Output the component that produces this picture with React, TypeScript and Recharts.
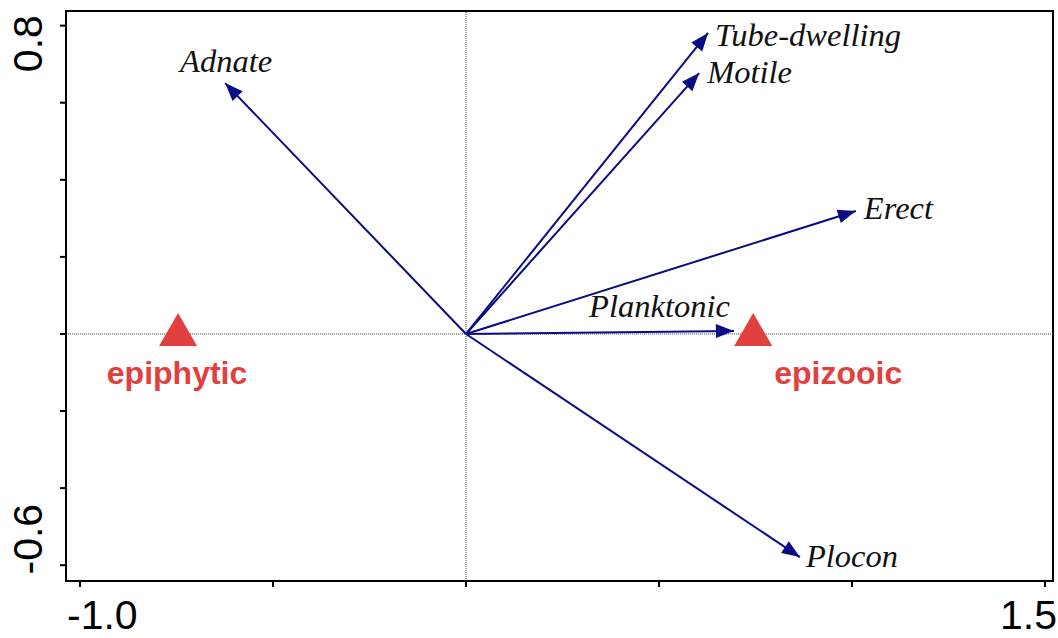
import React from "react";
import {
  ScatterChart,
  Scatter,
  XAxis,
  YAxis,
  ReferenceLine,
  ReferenceArea,
} from "recharts";

// trait vectors (arrow tips), biplot scores
const traitNames = ["Adnate", "Tube-dwelling", "Motile", "Erect", "Planktonic", "Plocon"];
const traitX = [-0.624, 0.627, 0.604, 1.01, 0.694, 0.865];
const traitY = [0.651, 0.781, 0.677, 0.319, 0.008, -0.579];

// habitat centroids
const siteNames = ["epiphytic", "epizooic"];
const siteX = [-0.746, 0.744];
const siteY = [0.0, 0.0];

const xTicks = [-1.0, -0.5, 0, 0.5, 1.0, 1.5];
const yTicks = [-0.6, -0.4, -0.2, 0, 0.2, 0.4, 0.6, 0.8];
const X_DOMAIN: [number, number] = [-1.0363, 1.5207];
const Y_DOMAIN: [number, number] = [-0.641, 0.838];

const NAVY = "#0b0b85";
const RED = "#e23f3f";

// label placement relative to arrow tip: dx, dy, anchor
const traitLabelPos: Record<string, [number, number, "start" | "middle" | "end"]> = {
  Adnate: [1, -11, "middle"],
  "Tube-dwelling": [7, 13, "start"],
  Motile: [8, 10, "start"],
  Erect: [8, 8, "start"],
  Planktonic: [-4, -14, "end"],
  Plocon: [6, 10, "start"],
};
const siteLabelPos: Record<string, [number, number]> = {
  epiphytic: [-1, 50],
  epizooic: [85, 50],
};

const ArrowHead = (props: any) => {
  const { cx, cy, payload } = props;
  if (!payload || !payload.name) return <g />;
  const ang = Math.atan2(-payload.y, payload.x);
  const L = 18;
  const W = 7;
  const bx = cx - L * Math.cos(ang);
  const by = cy - L * Math.sin(ang);
  const px = -Math.sin(ang) * W;
  const py = Math.cos(ang) * W;
  const [dx, dy, anchor] = traitLabelPos[payload.name];
  return (
    <g>
      <polygon
        points={`${cx},${cy} ${bx + px},${by + py} ${bx - px},${by - py}`}
        fill={NAVY}
      />
      <text
        x={cx + dx}
        y={cy + dy}
        textAnchor={anchor}
        fontFamily="'Liberation Serif', serif"
        fontStyle="italic"
        fontSize={32.5}
        fill="#111"
      >
        {payload.name}
      </text>
    </g>
  );
};

const SiteMarker = (props: any) => {
  const { cx, cy, payload } = props;
  const [dx, dy] = siteLabelPos[payload.name];
  return (
    <g>
      <polygon
        points={`${cx},${cy - 21} ${cx - 19},${cy + 12} ${cx + 19},${cy + 12}`}
        fill={RED}
      />
      <text
        x={cx + dx}
        y={cy + dy}
        textAnchor="middle"
        fontFamily="'Liberation Sans', Arial, sans-serif"
        fontWeight="bold"
        fontSize={32}
        fill={RED}
      >
        {payload.name}
      </text>
    </g>
  );
};

const XTick = (props: any) => {
  const { x, y, payload, index } = props;
  if (index !== 0 && index !== xTicks.length - 1) return <g />;
  const first = index === 0;
  return (
    <text
      x={first ? x - 13 : x + 12}
      y={y + 42}
      textAnchor={first ? "start" : "end"}
      fontFamily="'Liberation Sans', Arial, sans-serif"
      fontSize={41}
      fill="#000"
    >
      {payload.value.toFixed(1)}
    </text>
  );
};

const YTick = (props: any) => {
  const { x, y, payload, index } = props;
  if (index !== 0 && index !== yTicks.length - 1) return <g />;
  const ty = index === 0 ? y - 26 : y + 18;
  const tx = x - 17.5;
  return (
    <text
      x={tx}
      y={ty}
      transform={`rotate(-90, ${tx}, ${ty})`}
      textAnchor="middle"
      fontFamily="'Liberation Sans', Arial, sans-serif"
      fontSize={41}
      fill="#000"
    >
      {payload.value.toFixed(1)}
    </text>
  );
};

export default function App() {
  const arrows = traitNames.map((name, i) => [
    { x: 0, y: 0 },
    { x: traitX[i], y: traitY[i], name },
  ]);
  const sites = siteNames.map((name, i) => ({ x: siteX[i], y: siteY[i], name }));

  return (
    <div style={{ position: "absolute", left: 0, top: 0, width: 1058, height: 638 }}>
      <ScatterChart
        width={1058}
        height={638}
        margin={{ top: 11, right: 5, left: 0, bottom: 0 }}
      >
        <XAxis
          type="number"
          dataKey="x"
          domain={X_DOMAIN}
          ticks={xTicks}
          allowDataOverflow
          height={57}
          tickSize={6}
          tickMargin={0}
          axisLine={{ stroke: "#000", strokeWidth: 2 }}
          tickLine={{ stroke: "#000", strokeWidth: 2 }}
          tick={<XTick />}
        />
        <YAxis
          type="number"
          dataKey="y"
          domain={Y_DOMAIN}
          ticks={yTicks}
          allowDataOverflow
          width={66}
          tickSize={6}
          tickMargin={0}
          axisLine={{ stroke: "#000", strokeWidth: 2 }}
          tickLine={{ stroke: "#000", strokeWidth: 2 }}
          tick={<YTick />}
        />
        <ReferenceArea
          x1={X_DOMAIN[0]}
          x2={X_DOMAIN[1]}
          y1={Y_DOMAIN[0]}
          y2={Y_DOMAIN[1]}
          fill="none"
          fillOpacity={0}
          stroke="#000"
          strokeWidth={2}
          ifOverflow="visible"
        />
        <ReferenceLine x={0} stroke="#444" strokeWidth={1} strokeDasharray="1 1" />
        <ReferenceLine y={0} stroke="#444" strokeWidth={1} strokeDasharray="1 1" />
        {arrows.map((d, i) => (
          <Scatter
            key={traitNames[i]}
            data={d}
            line={{ stroke: NAVY, strokeWidth: 2 }}
            lineType="joint"
            shape={<ArrowHead />}
            isAnimationActive={false}
          />
        ))}
        <Scatter data={sites} shape={<SiteMarker />} isAnimationActive={false} />
      </ScatterChart>
    </div>
  );
}
